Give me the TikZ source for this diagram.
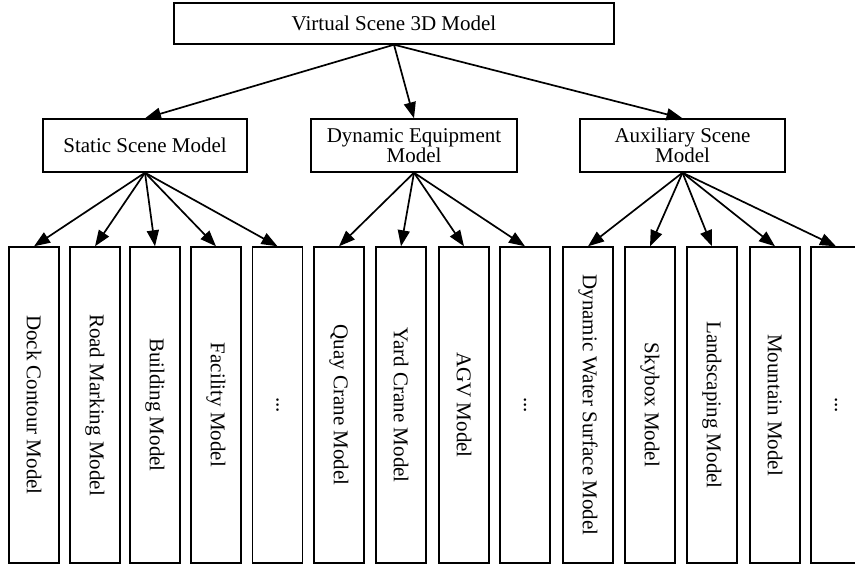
\documentclass[tikz,border=0pt]{standalone}
\usepackage{fontspec}
\setmainfont{Liberation Serif}
\usetikzlibrary{arrows.meta}
\begin{document}
\begin{tikzpicture}[x=1pt,y=-1pt,
  box/.style={draw=black,line width=1.4pt,fill=white,inner sep=0pt,align=center,
    font=\fontsize{21}{19.5}\selectfont},
  leaf/.style={box,minimum width=50pt,minimum height=316pt},
  conn/.style={line width=1.7pt,-{Triangle[length=16pt,width=12pt]}}]
\useasboundingbox (0,0) rectangle (855,567);
\fill[white] (0,0) rectangle (855,567);
\node[box,minimum width=440pt,minimum height=41pt] (top) at (394,23.5) {Virtual Scene 3D Model};
\node[box,minimum width=204pt,minimum height=53pt] (st) at (145,145.5) {Static Scene Model};
\node[box,minimum width=206pt,minimum height=53pt] (dy) at (414,145.5) {Dynamic Equipment\\Model};
\node[box,minimum width=205pt,minimum height=53pt] (au) at (682.5,145.5) {Auxiliary Scene\\Model};
\node[leaf] (l1) at (34,405) {\rotatebox{-90}{Dock Contour Model}};
\node[leaf] (l2) at (95,405) {\rotatebox{-90}{Road Marking Model}};
\node[leaf] (l3) at (155,405) {\rotatebox{-90}{Building Model}};
\node[leaf] (l4) at (216,405) {\rotatebox{-90}{Facility Model}};
\node[leaf] (l5) at (277.5,405) {\rotatebox{-90}{...}};
\node[leaf] (l6) at (339,405) {\rotatebox{-90}{Quay Crane Model}};
\node[leaf] (l7) at (401,405) {\rotatebox{-90}{Yard Crane Model}};
\node[leaf] (l8) at (464,405) {\rotatebox{-90}{AGV Model}};
\node[leaf] (l9) at (525,405) {\rotatebox{-90}{...}};
\node[leaf] (l10) at (588,405) {\rotatebox{-90}{Dynamic Water Surface Model}};
\node[leaf] (l11) at (650,405) {\rotatebox{-90}{Skybox Model}};
\node[leaf] (l12) at (712,405) {\rotatebox{-90}{Landscaping Model}};
\node[leaf] (l13) at (775,405) {\rotatebox{-90}{Mountain Model}};
\node[leaf] (l14) at (836,405) {\rotatebox{-90}{...}};
\foreach \c in {st,dy,au} \draw[conn] (top.south) -- (\c.north);
\foreach \c in {l1,l2,l3,l4,l5} \draw[conn] (st.south) -- (\c.north);
\foreach \c in {l6,l7,l8,l9} \draw[conn] (dy.south) -- (\c.north);
\foreach \c in {l10,l11,l12,l13,l14} \draw[conn] (au.south) -- (\c.north);
\end{tikzpicture}
\end{document}
